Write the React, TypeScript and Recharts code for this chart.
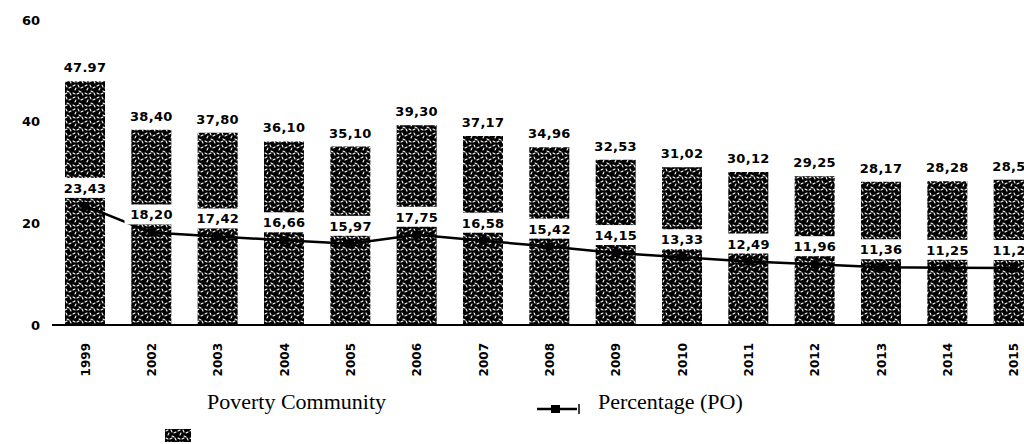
import React from 'react';
import { ComposedChart, Bar, Line, XAxis, YAxis, LabelList } from 'recharts';

const years = ['1999', '2002', '2003', '2004', '2005', '2006', '2007', '2008', '2009', '2010', '2011', '2012', '2013', '2014', '2015'];
const poorPeople = [47.97, 38.4, 37.8, 36.1, 35.1, 39.3, 37.17, 34.96, 32.53, 31.02, 30.12, 29.25, 28.17, 28.28, 28.59];
const poorPercent = [23.43, 18.2, 17.42, 16.66, 15.97, 17.75, 16.58, 15.42, 14.15, 13.33, 12.49, 11.96, 11.36, 11.25, 11.22];
const peopleLabels = ['47.97', '38,40', '37,80', '36,10', '35,10', '39,30', '37,17', '34,96', '32,53', '31,02', '30,12', '29,25', '28,17', '28,28', '28,59'];
const yTicks = [0, 20, 40, 60];

const data = years.map((year, i) => ({
  year,
  people: poorPeople[i],
  percent: poorPercent[i],
  label: peopleLabels[i],
}));

const sans = '"DejaVu Sans", Verdana, sans-serif';
const serif = '"Liberation Serif", "DejaVu Serif", serif';

// speckled black fill, like the scanned print
const Speckle = ({ id }: { id: string }) => (
  <pattern id={id} width="12" height="12" patternUnits="userSpaceOnUse">
    <rect width="12" height="12" fill="#000" />
    <path
      d="M1 2 l2 -1 M6 1 l1 2 M9 4 l2 -1 M3 6 l1 -2 M7 7 l2 1 M1 9 l2 1 M5 10 l2 -1 M10 9 l1 2"
      stroke="#fff"
      strokeWidth="1.1"
      strokeLinecap="round"
    />
  </pattern>
);

const YearTick = (props: any) => {
  const { x, y, payload } = props;
  return (
    <text
      x={x}
      y={y + 10}
      dy={4.5}
      transform={`rotate(-90, ${x}, ${y + 10})`}
      textAnchor="end"
      fontFamily={sans}
      fontWeight="bold"
      fontSize={12}
      fill="#000"
    >
      {payload.value}
    </text>
  );
};

const PeopleLabel = (props: any) => {
  const { x, y, width, index } = props;
  return (
    <text
      x={x + width / 2}
      y={y - 9}
      textAnchor="middle"
      fontFamily={sans}
      fontWeight="bold"
      fontSize={13}
      letterSpacing={0.3}
      fill="#000"
    >
      {data[index].label}
    </text>
  );
};

const PercentLabel = (props: any) => {
  const { x, y, value } = props;
  const text = Number(value).toFixed(2).replace('.', ',');
  return (
    <g>
      <rect x={x - 27} y={y - 28} width={54} height={20} fill="#fff" />
      <text
        x={x}
        y={y - 13}
        textAnchor="middle"
        fontFamily={sans}
        fontWeight="bold"
        fontSize={13}
        letterSpacing={0.3}
        fill="#000"
      >
        {text}
      </text>
    </g>
  );
};

const SquareDot = (props: any) => {
  const { cx, cy } = props;
  return <rect x={cx - 4} y={cy - 4} width={8} height={8} fill="#000" />;
};

export default function App() {
  return (
    <div
      style={{
        position: 'fixed',
        left: 0,
        top: 0,
        width: 1024,
        height: 444,
        overflow: 'hidden',
        background: '#fff',
      }}
    >
      <ComposedChart width={1047} height={390} data={data} margin={{ top: 20, right: 0, left: 0, bottom: 0 }}>
        <defs>
          <Speckle id="speckle" />
        </defs>
        <XAxis
          dataKey="year"
          axisLine={{ stroke: '#000', strokeWidth: 2 }}
          tickLine={false}
          height={65}
          interval={0}
          tick={<YearTick />}
        />
        <YAxis
          domain={[0, 60]}
          ticks={yTicks}
          width={52}
          axisLine={false}
          tickLine={false}
          tickMargin={6}
          tick={{ fill: '#000', fontSize: 13, fontWeight: 'bold', fontFamily: sans }}
        />
        <Bar dataKey="people" barSize={40} fill="url(#speckle)" isAnimationActive={false}>
          <LabelList dataKey="people" content={<PeopleLabel />} />
        </Bar>
        <Line
          dataKey="percent"
          type="linear"
          stroke="#000"
          strokeWidth={2.5}
          dot={<SquareDot />}
          isAnimationActive={false}
        >
          <LabelList dataKey="percent" content={<PercentLabel />} />
        </Line>
      </ComposedChart>

      <svg width={26} height={13} style={{ position: 'absolute', left: 165, top: 429 }}>
        <defs>
          <Speckle id="speckle-legend" />
        </defs>
        <rect width={26} height={13} fill="url(#speckle-legend)" />
      </svg>
      <div
        style={{
          position: 'absolute',
          left: 207,
          top: 389,
          fontFamily: serif,
          fontSize: 22,
          color: '#000',
          whiteSpace: 'nowrap',
        }}
      >
        Poverty Community
      </div>
      <svg width={46} height={16} style={{ position: 'absolute', left: 537, top: 401 }}>
        <line x1={0} y1={8} x2={40} y2={8} stroke="#000" strokeWidth={2.5} />
        <rect x={14} y={4} width={9} height={8} fill="#000" />
        <line x1={42} y1={3} x2={42} y2={13} stroke="#000" strokeWidth={1.5} />
      </svg>
      <div
        style={{
          position: 'absolute',
          left: 598,
          top: 389,
          fontFamily: serif,
          fontSize: 22,
          color: '#000',
          whiteSpace: 'nowrap',
        }}
      >
        Percentage (PO)
      </div>
    </div>
  );
}
